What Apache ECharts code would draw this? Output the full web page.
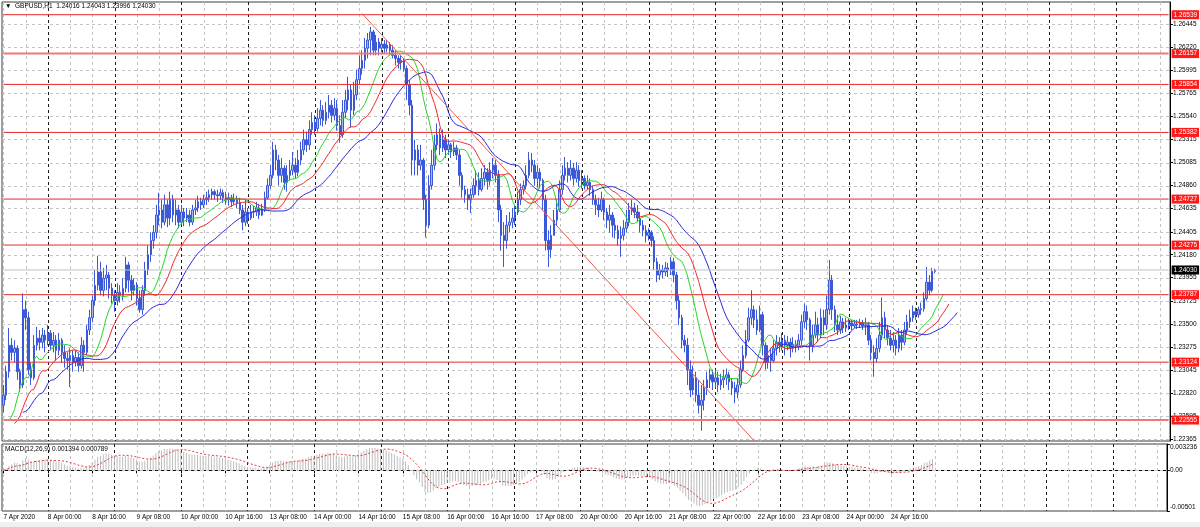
<!DOCTYPE html>
<html><head><meta charset="utf-8">
<script src="https://cdn.jsdelivr.net/npm/echarts@6/dist/echarts.min.js"></script>
<style>html,body{margin:0;padding:0;background:#fff}#c{width:1200px;height:527px}</style>
</head><body><div id="c"></div>
<script>
// ---------- data ----------
const tickLabels = ['7 Apr 2020','8 Apr 00:00','8 Apr 16:00','9 Apr 08:00','10 Apr 00:00','10 Apr 16:00','13 Apr 08:00','14 Apr 00:00','14 Apr 16:00','15 Apr 08:00','16 Apr 00:00','16 Apr 16:00','17 Apr 08:00','20 Apr 00:00','20 Apr 16:00','21 Apr 08:00','22 Apr 00:00','22 Apr 16:00','23 Apr 08:00','24 Apr 00:00','24 Apr 16:00'];
const priceTicks = [1.22365,1.22595,1.22820,1.23045,1.23275,1.23500,1.23725,1.23955,1.24180,1.24405,1.24635,1.24860,1.25085,1.25315,1.25540,1.25765,1.25995,1.26220,1.26445];
const levels = [1.26539,1.26157,1.25854,1.25382,1.24727,1.24275,1.23787,1.23124,1.22555];
const boldLevels = [1.26157,1.22555];
const lastPrice = 1.24030;
const macdTicks = [-0.00501, 0, 0.003236];
const macdTickLabels = ['-0.00501','0.00','0.003236'];
const trendline = [[129,1.2655],[270,1.2235]];
const firstOpen = 1.2270;
const jawSeed = 1.2263, teethSeed = 1.2252, lipsSeed = 1.2255;

const close = [
1.2280,1.2303,1.2329,1.2322,1.2326,1.2303,1.2290,1.2364,1.2356,1.2305,
1.2297,1.2329,1.2336,1.2332,1.2339,1.2334,1.2341,1.2329,1.2334,1.2324,
1.2334,1.2322,1.2316,1.2314,1.2319,1.2312,1.2317,1.2309,1.2329,1.2322,
1.2344,1.2356,1.2373,1.2388,1.2401,1.2383,1.2395,1.2398,1.2385,1.2378,
1.2373,1.2381,1.2378,1.2385,1.2408,1.2393,1.2383,1.2388,1.2375,1.2364,
1.2383,1.2403,1.2418,1.2432,1.2440,1.2457,1.2462,1.2450,1.2467,1.2454,
1.2472,1.2457,1.2462,1.2450,1.2460,1.2454,1.2457,1.2450,1.2462,1.2464,
1.2470,1.2467,1.2472,1.2474,1.2477,1.2480,1.2477,1.2476,1.2479,1.2474,
1.2472,1.2474,1.2470,1.2472,1.2469,1.2462,1.2450,1.2460,1.2454,1.2460,
1.2460,1.2464,1.2457,1.2462,1.2474,1.2486,1.2496,1.2521,1.2511,1.2496,
1.2503,1.2489,1.2496,1.2501,1.2506,1.2499,1.2511,1.2521,1.2531,1.2526,
1.2541,1.2548,1.2542,1.2552,1.2560,1.2550,1.2558,1.2565,1.2555,1.2562,
1.2545,1.2536,1.2558,1.2570,1.2580,1.2560,1.2575,1.2590,1.2601,1.2609,
1.2621,1.2629,1.2637,1.2619,1.2627,1.2621,1.2625,1.2621,1.2624,1.2619,
1.2614,1.2611,1.2607,1.2609,1.2601,1.2585,1.2565,1.2511,1.2521,1.2506,
1.2511,1.2472,1.2447,1.2486,1.2506,1.2526,1.2536,1.2523,1.2531,1.2521,
1.2526,1.2519,1.2523,1.2516,1.2496,1.2482,1.2477,1.2472,1.2477,1.2486,
1.2491,1.2482,1.2493,1.2499,1.2491,1.2501,1.2506,1.2496,1.2462,1.2437,
1.2432,1.2447,1.2450,1.2454,1.2460,1.2472,1.2482,1.2486,1.2496,1.2511,
1.2506,1.2493,1.2499,1.2491,1.2472,1.2432,1.2423,1.2437,1.2452,1.2462,
1.2482,1.2496,1.2503,1.2496,1.2503,1.2493,1.2501,1.2491,1.2493,1.2486,
1.2489,1.2482,1.2472,1.2467,1.2462,1.2472,1.2460,1.2452,1.2457,1.2447,
1.2442,1.2434,1.2437,1.2444,1.2450,1.2462,1.2464,1.2460,1.2454,1.2447,
1.2442,1.2437,1.2440,1.2432,1.2411,1.2398,1.2403,1.2401,1.2405,1.2403,
1.2411,1.2398,1.2373,1.2356,1.2334,1.2329,1.2305,1.2285,1.2297,1.2280,
1.2270,1.2275,1.2287,1.2295,1.2300,1.2293,1.2297,1.2290,1.2295,1.2297,
1.2300,1.2293,1.2287,1.2283,1.2290,1.2305,1.2319,1.2334,1.2356,1.2364,
1.2354,1.2344,1.2359,1.2329,1.2312,1.2319,1.2314,1.2326,1.2332,1.2329,
1.2334,1.2329,1.2332,1.2326,1.2330,1.2328,1.2334,1.2352,1.2362,1.2354,
1.2329,1.2339,1.2349,1.2339,1.2356,1.2349,1.2364,1.2393,1.2364,1.2349,
1.2344,1.2352,1.2346,1.2349,1.2351,1.2348,1.2350,1.2349,1.2351,1.2348,
1.2349,1.2334,1.2322,1.2316,1.2326,1.2339,1.2356,1.2344,1.2336,1.2329,
1.2334,1.2326,1.2339,1.2332,1.2344,1.2352,1.2356,1.2362,1.2359,1.2364,
1.2365,1.2375,1.2391,1.2383,1.24016,1.24030];
const high = [
1.2290,1.2309,1.2346,1.2336,1.2334,1.2329,1.2306,1.2380,1.2373,1.2362,
1.2312,1.2339,1.2347,1.2344,1.2346,1.2344,1.2349,1.2344,1.2342,1.2339,
1.2341,1.2336,1.2329,1.2322,1.2326,1.2324,1.2324,1.2322,1.2337,1.2334,
1.2349,1.2364,1.2378,1.2403,1.2417,1.2411,1.2405,1.2408,1.2401,1.2390,
1.2383,1.2390,1.2388,1.2395,1.2416,1.2411,1.2398,1.2395,1.2391,1.2383,
1.2388,1.2411,1.2427,1.2440,1.2447,1.2467,1.2479,1.2472,1.2477,1.2472,
1.2480,1.2477,1.2472,1.2467,1.2467,1.2464,1.2464,1.2462,1.2467,1.2472,
1.2476,1.2474,1.2477,1.2480,1.2482,1.2483,1.2482,1.2482,1.2483,1.2482,
1.2480,1.2479,1.2477,1.2478,1.2476,1.2474,1.2467,1.2472,1.2464,1.2467,
1.2466,1.2470,1.2468,1.2468,1.2480,1.2493,1.2506,1.2529,1.2526,1.2516,
1.2513,1.2506,1.2506,1.2511,1.2519,1.2513,1.2521,1.2529,1.2541,1.2539,
1.2550,1.2558,1.2555,1.2562,1.2570,1.2565,1.2568,1.2575,1.2570,1.2572,
1.2570,1.2555,1.2570,1.2580,1.2593,1.2585,1.2588,1.2600,1.2614,1.2619,
1.2631,1.2636,1.2642,1.2639,1.2634,1.2631,1.2631,1.2629,1.2629,1.2627,
1.2624,1.2619,1.2614,1.2614,1.2611,1.2604,1.2590,1.2570,1.2531,1.2526,
1.2526,1.2513,1.2477,1.2496,1.2521,1.2536,1.2547,1.2542,1.2541,1.2536,
1.2531,1.2528,1.2529,1.2526,1.2521,1.2499,1.2486,1.2483,1.2483,1.2493,
1.2501,1.2499,1.2503,1.2506,1.2503,1.2509,1.2513,1.2511,1.2501,1.2467,
1.2450,1.2457,1.2460,1.2464,1.2467,1.2480,1.2488,1.2491,1.2506,1.2519,
1.2518,1.2511,1.2506,1.2503,1.2493,1.2477,1.2442,1.2447,1.2462,1.2472,
1.2491,1.2506,1.2514,1.2509,1.2511,1.2508,1.2509,1.2506,1.2501,1.2496,
1.2496,1.2493,1.2486,1.2477,1.2474,1.2480,1.2474,1.2464,1.2467,1.2460,
1.2454,1.2447,1.2446,1.2452,1.2462,1.2469,1.2472,1.2469,1.2467,1.2460,
1.2452,1.2447,1.2444,1.2442,1.2436,1.2415,1.2409,1.2408,1.2411,1.2410,
1.2416,1.2415,1.2401,1.2378,1.2359,1.2339,1.2336,1.2314,1.2309,1.2303,
1.2295,1.2290,1.2295,1.2303,1.2306,1.2305,1.2305,1.2303,1.2301,1.2305,
1.2306,1.2303,1.2297,1.2293,1.2297,1.2314,1.2329,1.2344,1.2366,1.2383,
1.2368,1.2364,1.2368,1.2362,1.2332,1.2329,1.2326,1.2334,1.2339,1.2337,
1.2341,1.2339,1.2338,1.2336,1.2337,1.2334,1.2340,1.2359,1.2370,1.2368,
1.2356,1.2349,1.2362,1.2356,1.2365,1.2364,1.2378,1.2413,1.2398,1.2368,
1.2359,1.2358,1.2356,1.2356,1.2355,1.2354,1.2354,1.2354,1.2355,1.2354,
1.2356,1.2352,1.2339,1.2329,1.2336,1.2352,1.2376,1.2362,1.2349,1.2344,
1.2342,1.2339,1.2346,1.2344,1.2352,1.2359,1.2364,1.2368,1.2366,1.2367,
1.2371,1.2381,1.2406,1.2398,1.2405,1.24043];
const low = [
1.2263,1.2275,1.2297,1.2314,1.2312,1.2295,1.2283,1.2287,1.2344,1.2300,
1.2290,1.2295,1.2324,1.2324,1.2326,1.2322,1.2329,1.2324,1.2322,1.2314,
1.2319,1.2312,1.2307,1.2305,1.2288,1.2303,1.2308,1.2303,1.2306,1.2303,
1.2319,1.2339,1.2352,1.2368,1.2383,1.2378,1.2377,1.2383,1.2375,1.2370,
1.2362,1.2368,1.2371,1.2373,1.2381,1.2381,1.2373,1.2378,1.2368,1.2361,
1.2359,1.2378,1.2398,1.2411,1.2424,1.2434,1.2447,1.2444,1.2447,1.2445,
1.2447,1.2450,1.2447,1.2444,1.2447,1.2446,1.2450,1.2446,1.2447,1.2457,
1.2460,1.2462,1.2464,1.2467,1.2470,1.2472,1.2472,1.2470,1.2472,1.2469,
1.2467,1.2466,1.2465,1.2467,1.2464,1.2458,1.2442,1.2446,1.2448,1.2452,
1.2454,1.2456,1.2453,1.2456,1.2460,1.2472,1.2483,1.2493,1.2501,1.2486,
1.2489,1.2482,1.2480,1.2491,1.2496,1.2493,1.2495,1.2506,1.2516,1.2519,
1.2521,1.2536,1.2536,1.2539,1.2545,1.2544,1.2546,1.2552,1.2548,1.2550,
1.2540,1.2528,1.2533,1.2552,1.2560,1.2543,1.2555,1.2570,1.2585,1.2595,
1.2601,1.2611,1.2614,1.2614,1.2614,1.2614,1.2617,1.2616,1.2617,1.2614,
1.2611,1.2604,1.2601,1.2600,1.2598,1.2570,1.2555,1.2496,1.2496,1.2496,
1.2501,1.2462,1.2435,1.2444,1.2482,1.2501,1.2521,1.2516,1.2519,1.2513,
1.2516,1.2513,1.2515,1.2511,1.2486,1.2474,1.2469,1.2462,1.2459,1.2474,
1.2477,1.2476,1.2480,1.2486,1.2482,1.2486,1.2493,1.2489,1.2450,1.2422,
1.2406,1.2424,1.2440,1.2444,1.2447,1.2457,1.2467,1.2477,1.2482,1.2493,
1.2499,1.2486,1.2484,1.2483,1.2462,1.2422,1.2406,1.2415,1.2437,1.2447,
1.2460,1.2477,1.2491,1.2489,1.2491,1.2486,1.2489,1.2485,1.2483,1.2482,
1.2482,1.2476,1.2467,1.2457,1.2455,1.2460,1.2452,1.2444,1.2440,1.2435,
1.2434,1.2427,1.2416,1.2432,1.2440,1.2446,1.2457,1.2454,1.2450,1.2440,
1.2436,1.2430,1.2432,1.2426,1.2403,1.2391,1.2393,1.2395,1.2397,1.2396,
1.2398,1.2391,1.2364,1.2349,1.2326,1.2322,1.2290,1.2278,1.2280,1.2273,
1.2262,1.2245,1.2265,1.2280,1.2287,1.2285,1.2287,1.2283,1.2285,1.2287,
1.2290,1.2285,1.2280,1.2272,1.2277,1.2287,1.2303,1.2316,1.2332,1.2349,
1.2346,1.2339,1.2342,1.2319,1.2305,1.2306,1.2303,1.2312,1.2319,1.2322,
1.2324,1.2319,1.2324,1.2317,1.2322,1.2322,1.2324,1.2329,1.2346,1.2344,
1.2314,1.2322,1.2336,1.2332,1.2336,1.2339,1.2344,1.2359,1.2354,1.2342,
1.2339,1.2340,1.2341,1.2342,1.2344,1.2344,1.2346,1.2345,1.2346,1.2344,
1.2339,1.2329,1.2314,1.2298,1.2312,1.2322,1.2334,1.2336,1.2329,1.2324,
1.2322,1.2319,1.2322,1.2324,1.2329,1.2339,1.2346,1.2352,1.2354,1.2356,
1.2359,1.2362,1.2373,1.2378,1.2381,1.23996];

// ---------- derived ----------
const N = 420; // slots incl. chart shift
const mons = ['Jan','Feb','Mar','Apr','May','Jun','Jul','Aug','Sep','Oct','Nov','Dec'];
const cats = [];
let t = Date.UTC(2020,3,7,8);
for (let i=0;i<N;i++){
  const d = new Date(t);
  cats.push(d.getUTCDate()+' '+mons[d.getUTCMonth()]+' '+String(d.getUTCHours()).padStart(2,'0')+':00');
  t += 3600000;
  if (new Date(t).getUTCDay()===6) t += 2*86400000;
}
const candles = close.map((c,i)=>{
  const o = i===0 ? firstOpen : close[i-1];
  return [o, c, Math.min(low[i],o,c), Math.max(high[i],o,c)];
});
const median = candles.map(k=>(k[2]+k[3])/2);
function smma(src,n,seed){let s=seed;return src.map(v=>(s=(s*(n-1)+v)/n));}
function shifted(arr,shift,seed){const d=new Array(N).fill(null);d[shift-1]=seed;arr.forEach((v,i)=>{if(i+shift<N)d[i+shift]=v;});return d;}
const jaw = shifted(smma(median,13,jawSeed),8,jawSeed);
const teeth = shifted(smma(median,8,teethSeed),5,teethSeed);
const lips = shifted(smma(median,5,lipsSeed),3,lipsSeed);
function ema(src,n){const k=2/(n+1);let e=src[0];return src.map(v=>(e=e+k*(v-e)));}
const e12=ema(close,12), e26=ema(close,26);
const macd = close.map((v,i)=>e12[i]-e26[i]);
const signal = macd.map((v,i)=>{const s=Math.max(0,i-8);let a=0;for(let j=s;j<=i;j++)a+=macd[j];return a/(i-s+1);});

const FONT = 'Liberation Sans';
const FS = 6.5;
const vGrid = [];
for (let i=0;i<N;i+=8) vGrid.push([i, (i>=16 && (i-16)%24===0) ? 1 : 0]);
const labelFn = (i)=> i%16===0 && i/16 < tickLabels.length;

function vGridRender(params, api){
  const cs = params.coordSys;
  const x = Math.round(api.coord([api.value(0), 0])[0]) + 0.5;
  const dark = api.value(1) === 1;
  return {type:'line', silent:true, shape:{x1:x, y1:cs.y, x2:x, y2:cs.y+cs.height},
    style:{stroke: dark ? '#1a1a1a' : '#c4c4c4', lineWidth:1, lineDash:[3,3]}};
}
function hGridRender(params, api){
  const cs = params.coordSys;
  const y = Math.round(api.coord([0, api.value(1)])[1]) + 0.5;
  return {type:'line', silent:true, shape:{x1:cs.x, y1:y, x2:cs.x+cs.width, y2:y},
    style:{stroke:'#c4c4c4', lineWidth:1, lineDash:[3,3]}};
}
function levelSeries(v, kind){ // kind 0 normal, 1 bold, 2 last price
  const color = kind===2 ? '#c0c0c0' : (kind===1 ? '#f07878' : '#e82a2a');
  return {type:'line', xAxisIndex:0, yAxisIndex:0, z:5, silent:true, clip:false, showSymbol:false, symbol:'none',
    data:[[0, v],[N-1, v]], lineStyle:{color, width: kind===1?2:1, type:'solid'}, itemStyle:{color},
    endLabel:{show:true, formatter:v.toFixed(5), distance:3, color:'#fff', backgroundColor: kind===2?'#000':'#ff1a1a',
      padding:[1,2,1,2], fontSize:FS, fontFamily:FONT}};
}

const chart = echarts.init(document.getElementById('c'), null, {renderer:'canvas'});
chart.setOption({
  animation:false,
  backgroundColor:'#ffffff',
  grid:[
    {left:2, top:2, width:1168, height:439, show:true, borderColor:'#3c3c3c', borderWidth:1, backgroundColor:'#fff'},
    {left:2, top:444, width:1168, height:67, show:true, borderColor:'#3c3c3c', borderWidth:1, backgroundColor:'#fff'}
  ],
  xAxis:[
    {gridIndex:0, type:'category', data:cats, boundaryGap:true, axisLine:{show:false}, axisTick:{show:false}, axisLabel:{show:false}, splitLine:{show:false}},
    {gridIndex:1, type:'category', data:cats, boundaryGap:true,
      axisLine:{show:true, lineStyle:{color:'#000'}},
      axisTick:{show:true, alignWithLabel:true, interval:labelFn, length:3, lineStyle:{color:'#000'}},
      axisLabel:{show:true, interval:labelFn, formatter:(v,i)=>tickLabels[i/16], align:'left', fontSize:FS, fontFamily:FONT, color:'#000', margin:3},
      splitLine:{show:false}}
  ],
  yAxis:[
    {gridIndex:0, type:'value', position:'right', min:1.22349, max:1.26664,
      axisLine:{show:true, lineStyle:{color:'#000'}},
      axisTick:{show:true, customValues:priceTicks, length:3, lineStyle:{color:'#000'}},
      axisLabel:{show:true, customValues:priceTicks, formatter:v=>v.toFixed(5), fontSize:FS, fontFamily:FONT, color:'#000', margin:3},
      splitLine:{show:false}},
    {gridIndex:1, type:'value', position:'right', min:-0.00501, max:0.003236,
      axisLine:{show:true, lineStyle:{color:'#000'}},
      axisTick:{show:true, customValues:macdTicks, length:3, lineStyle:{color:'#000'}},
      axisLabel:{show:true, customValues:macdTicks, formatter:v=>macdTickLabels[macdTicks.indexOf(v)] ?? v, fontSize:FS, fontFamily:FONT, color:'#000', margin:3,
        verticalAlignMinLabel:'bottom', verticalAlignMaxLabel:'top'},
      splitLine:{show:false}}
  ],
  graphic:[
    {type:'text', left:5, top:3, z:100, style:{text:'▼  GBPUSD,H1  1.24016 1.24043 1.23996 1.24030', font:FS+'px "'+FONT+'"', fill:'#000'}},
    {type:'text', left:5, top:446, z:100, style:{text:'MACD(12,26,9) 0.001394 0.000789', font:FS+'px "'+FONT+'"', fill:'#000'}},
    {type:'rect', left:0, top:522, shape:{width:1200, height:5}, style:{fill:'#f0f0f0'}}
  ],
  series:[
    {name:'vGridMain', type:'custom', xAxisIndex:0, yAxisIndex:0, data:vGrid, encode:{x:0}, renderItem:vGridRender, z:1, silent:true, clip:false},
    {name:'hGridMain', type:'custom', xAxisIndex:0, yAxisIndex:0, data:priceTicks.map(v=>[0,v]), encode:{x:0,y:1}, renderItem:hGridRender, z:1, silent:true, clip:false},
    {name:'GBPUSD', type:'candlestick', xAxisIndex:0, yAxisIndex:0, data:candles, z:2, barWidth:2,
      itemStyle:{color:'#a9b8f0', color0:'#3a58d8', borderColor:'#3a58d8', borderColor0:'#3a58d8', borderWidth:1}},
    {name:'Lips', type:'line', xAxisIndex:0, yAxisIndex:0, data:lips, showSymbol:false, z:3, lineStyle:{color:'#27d627', width:1}},
    {name:'Teeth', type:'line', xAxisIndex:0, yAxisIndex:0, data:teeth, showSymbol:false, z:3, lineStyle:{color:'#ee2b2b', width:1}},
    {name:'Jaw', type:'line', xAxisIndex:0, yAxisIndex:0, data:jaw, showSymbol:false, z:3, lineStyle:{color:'#2b2bdf', width:1}},
    {name:'Trend', type:'line', xAxisIndex:0, yAxisIndex:0, data:trendline, showSymbol:false, z:4, clip:true, lineStyle:{color:'#f05a4a', width:1}},
    ...levels.map(v=>levelSeries(v, boldLevels.includes(v)?1:0)),
    levelSeries(lastPrice, 2),
    {name:'vGridMacd', type:'custom', xAxisIndex:1, yAxisIndex:1, data:vGrid, encode:{x:0}, renderItem:vGridRender, z:1, silent:true, clip:false},
    {name:'zeroMacd', type:'custom', xAxisIndex:1, yAxisIndex:1, data:[[0,0]], encode:{x:0,y:1}, renderItem:hGridRender, z:1, silent:true, clip:false},
    {name:'MACD', type:'bar', xAxisIndex:1, yAxisIndex:1, data:macd, barWidth:1, z:2, itemStyle:{color:'#bdbdbd'}},
    {name:'Signal', type:'line', xAxisIndex:1, yAxisIndex:1, data:signal, showSymbol:false, z:3, lineStyle:{color:'#e03a3a', width:1, type:[2,2]}}
  ]
});
</script>
</body></html>
